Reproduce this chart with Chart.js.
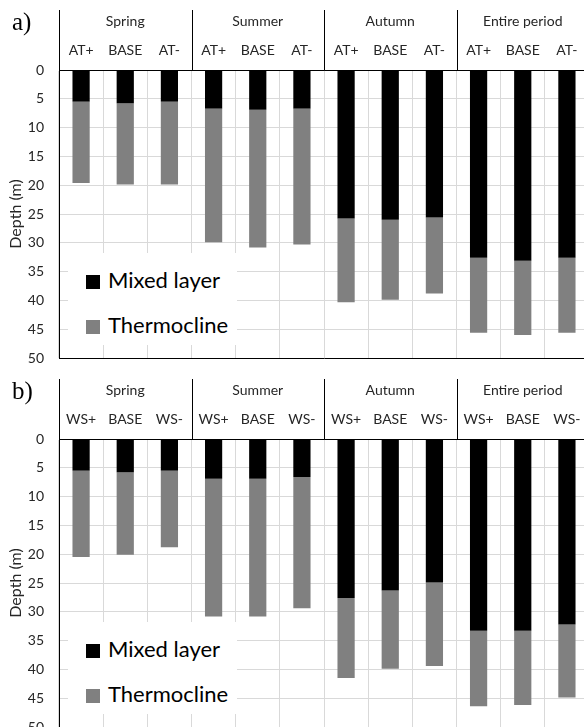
<!DOCTYPE html>
<html>
<head>
<meta charset="utf-8">
<script src="https://cdn.jsdelivr.net/npm/chart.js@4.4.0/dist/chart.umd.min.js"></script>
<style>
  html, body { margin: 0; padding: 0; background: #fff; overflow: hidden; }
  body { width: 584px; height: 727px; position: relative; }
  .panel { position: absolute; left: 0; width: 600px; height: 370px; }
  .panel canvas { position: absolute; left: 0; top: 0; }
  .tag { position: absolute; left: 12px; top: 8px; font: 25px "Liberation Serif", serif; color: #000; }
  .legend { position: absolute; left: 68px; top: 253px; width: 169px; height: 92px; background: #fff;
            font: 22px Lato, sans-serif; color: #000; }
  .legend div { position: absolute; left: 18px; height: 24px; line-height: 24px; white-space: nowrap; }
  .legend span { display: inline-block; width: 14px; height: 14px; margin-right: 8px; vertical-align: -1px; }
</style>
</head>
<body>
<div class="panel" id="panelA" style="top:0">
  <canvas id="chartA" width="600" height="370"></canvas>
  <div class="tag">a)</div>
  <div class="legend" id="legendA"></div>
</div>
<div class="panel" id="panelB" style="top:369px">
  <canvas id="chartB" width="600" height="370"></canvas>
  <div class="tag">b)</div>
  <div class="legend" id="legendB"></div>
</div>
<script>
const seasons = ["Spring", "Summer", "Autumn", "Entire period"]
const scenariosA = ["AT+", "BASE", "AT-", "AT+", "BASE", "AT-", "AT+", "BASE", "AT-", "AT+", "BASE", "AT-"]
const scenariosB = ["WS+", "BASE", "WS-", "WS+", "BASE", "WS-", "WS+", "BASE", "WS-", "WS+", "BASE", "WS-"]
const depthTicks = [0, 5, 10, 15, 20, 25, 30, 35, 40, 45, 50]

// layer thickness (m), panel a (air temperature runs)
const mixedA = [5.5, 5.8, 5.5, 6.7, 6.9, 6.7, 25.8, 26.0, 25.6, 32.6, 33.1, 32.6]
const thermoA = [14.1, 14.1, 14.4, 23.2, 23.9, 23.6, 14.5, 13.9, 13.2, 13.0, 12.9, 13.0]

// layer thickness (m), panel b (wind speed runs)
const mixedB = [5.5, 5.8, 5.5, 6.9, 6.9, 6.6, 27.6, 26.3, 24.9, 33.3, 33.3, 32.2]
const thermoB = [15.0, 14.3, 13.3, 23.9, 23.9, 22.8, 13.9, 13.6, 14.5, 13.1, 12.9, 12.7]

Chart.defaults.font.family = "Lato, sans-serif"
Chart.defaults.color = "#262626"

// black separators between the seasons in the header, plus the left edge
const headerLines = {
  id: "headerLines",
  afterDraw(chart) {
    const { ctx, chartArea, scales } = chart
    const x = scales.x
    ctx.save()
    ctx.strokeStyle = "#000"
    ctx.lineWidth = 1
    ctx.beginPath()
    const left = Math.round(chartArea.left) + 0.5
    ctx.moveTo(left, 10)
    ctx.lineTo(left, chartArea.top)
    for (let i = 3; i < x.ticks.length; i += 3) {
      const px = Math.round((x.getPixelForTick(i - 1) + x.getPixelForTick(i)) / 2) + 0.5
      ctx.moveTo(px, 10)
      ctx.lineTo(px, chartArea.top)
    }
    ctx.stroke()
    ctx.restore()
  },
}

function makeChart(id, legendId, scenarios, mixed, thermo) {
  let chart = new Chart(document.getElementById(id).getContext("2d"), {
    type: "bar",
    data: {
      labels: scenarios,
      datasets: [
        {
          label: "Mixed layer",
          backgroundColor: "#000000",
          data: mixed,
        },
        {
          label: "Thermocline",
          backgroundColor: "#808080",
          data: thermo,
        },
      ],
    },
    options: {
      responsive: false,
      animation: false,
      devicePixelRatio: 1,
      layout: {
        padding: { left: 0, right: 11, top: 10, bottom: 12 },
      },
      datasets: {
        bar: { categoryPercentage: 1, barPercentage: 0.39 },
      },
      plugins: {
        legend: { display: false },
        tooltip: { enabled: false },
      },
      scales: {
        x: {
          position: "top",
          stacked: true,
          weight: 0,
          grid: { color: "#d9d9d9", drawTicks: false, offset: true },
          border: { color: "#000" },
          ticks: { font: { size: 14 }, padding: 11, maxRotation: 0, autoSkip: false },
          afterFit(scale) { scale.height = 30 },
        },
        season: {
          type: "category",
          labels: seasons,
          position: "top",
          weight: 1,
          offset: true,
          grid: { display: false, drawOnChartArea: false },
          border: { display: false },
          ticks: { font: { size: 14 }, padding: 2, maxRotation: 0 },
          afterFit(scale) { scale.height = 30 },
        },
        y: {
          reverse: true,
          stacked: true,
          min: 0,
          max: 50,
          afterBuildTicks(scale) {
            scale.ticks = depthTicks.map((v) => ({ value: v }))
          },
          grid: {
            color: (c) => (c.tick && (c.tick.value === 0 || c.tick.value === 50) ? "#000" : "#d9d9d9"),
            drawTicks: false,
          },
          border: { color: "#000" },
          ticks: { font: { size: 14 }, padding: 15 },
          title: {
            display: true,
            text: "Depth (m)",
            font: { size: 16 },
            padding: { top: 6, bottom: 0 },
          },
          afterFit(scale) {
            scale.width = 59
            // keep the tick padding from shrinking the plot vertically
            scale.paddingTop = 0
            scale.paddingBottom = 0
          },
        },
      },
    },
    plugins: [headerLines],
  })

  // legend box sitting over the lower-left of the plot
  const box = document.getElementById(legendId)
  chart.data.datasets.forEach((ds, i) => {
    const row = document.createElement("div")
    row.style.top = (15 + i * 45) + "px"
    const sw = document.createElement("span")
    sw.style.background = ds.backgroundColor
    row.appendChild(sw)
    row.appendChild(document.createTextNode(ds.label))
    box.appendChild(row)
  })
  return chart
}

let chartA = makeChart("chartA", "legendA", scenariosA, mixedA, thermoA)
let chartB = makeChart("chartB", "legendB", scenariosB, mixedB, thermoB)
</script>
</body>
</html>
